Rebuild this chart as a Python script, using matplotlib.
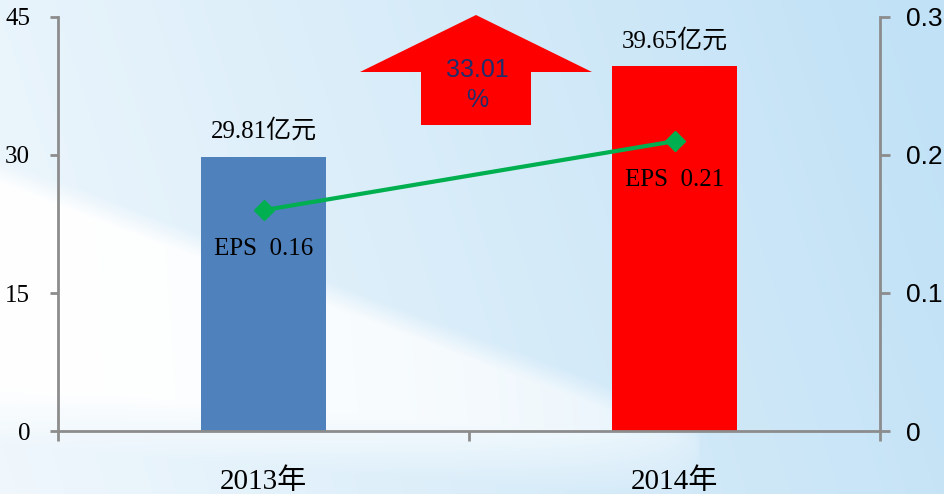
import numpy as np
import matplotlib.pyplot as plt
from matplotlib.patches import Polygon

# data
years = ['2013年', '2014年']
profit = [29.81, 39.65]          # 亿元
eps = [0.16, 0.21]
bar_colors = ['#4f81bd', '#ff0000']
growth = '33.01\n%'

serif_cjk = ['Liberation Serif', 'Noto Sans CJK SC']

fig = plt.figure(figsize=(9.44, 4.94), dpi=100)

# background: light blue gradient with a white diagonal swoosh
bg = fig.add_axes([0, 0, 1, 1], zorder=-10)
H, W = 494, 944
yy, xx = np.mgrid[0:H, 0:W].astype(float)
t = np.clip(xx / W * 0.9 + (1 - yy / H) * 0.15, 0, 1)
light = np.array([0.94, 0.97, 0.99])
blue = np.array([0.76, 0.885, 0.965])
img = light[None, None, :] * (1 - t[..., None]) + blue[None, None, :] * t[..., None]
upper = 160 + 0.37 * xx
lower = 445 + 0.08 * xx
band = np.clip((yy - upper) / 25, 0, 1) * np.clip((lower - yy) / 60, 0, 1)
band *= np.clip(1 - xx / 700, 0, 1) ** 0.3
img = img * (1 - band[..., None]) + band[..., None] * 1.0
bg.imshow(img, aspect='auto', extent=[0, 1, 0, 1])
bg.axis('off')

ax = fig.add_axes([58 / 944, 63 / 494, 822 / 944, 414 / 494])
ax.set_facecolor('none')
x = np.arange(len(years))
ax.bar(x, profit, width=0.305, color=bar_colors, zorder=2)
ax.set_xlim(-0.5, 1.5)
ax.set_ylim(0, 45)
ax.set_yticks([0, 15, 30, 45])
ax.set_xticks([-0.5, 0.5, 1.5], minor=False)
ax.set_xticklabels(['', '', ''])
ax.set_xticks(x, minor=True)
ax.set_xticklabels(years, minor=True, fontfamily=serif_cjk, fontsize=21)
ax.tick_params(axis='x', which='minor', length=0, pad=27)
ax.tick_params(axis='x', which='major', length=7, width=2, color='#8c8c8c', direction='out')
ax.tick_params(axis='y', length=6, width=2, color='#8c8c8c', labelsize=18, pad=14)
for lab in ax.get_yticklabels():
    lab.set_fontfamily('Liberation Serif')
for s in ['top', 'right']:
    ax.spines[s].set_visible(False)
for s in ['left', 'bottom']:
    ax.spines[s].set_color('#8c8c8c')
    ax.spines[s].set_linewidth(2)

for xi, v in zip(x, profit):
    ax.annotate(f'{v:.2f}亿元', (xi, v), xytext=(0, 10), textcoords='offset points',
                ha='center', va='bottom', fontsize=18, fontfamily=serif_cjk)

ax2 = ax.twinx()
ax2.set_ylim(0, 0.3)
ax2.set_yticks([0, 0.1, 0.2, 0.3])
ax2.set_yticklabels(['0', '0.1', '0.2', '0.3'], fontfamily='Liberation Sans', fontsize=19)
ax2.tick_params(axis='y', length=7, width=2, color='#8c8c8c', pad=12)
for s in ['top', 'left', 'bottom']:
    ax2.spines[s].set_visible(False)
ax2.spines['right'].set_color('#8c8c8c')
ax2.spines['right'].set_linewidth(2)
ax2.plot(x, eps, color='#00b050', lw=3, marker='D', ms=10, zorder=3)
for xi, v in zip(x, eps):
    ax2.annotate(f'EPS  {v:.2f}', (xi, v), xytext=(0, -20), textcoords='offset points',
                 ha='center', va='top', fontsize=18, fontfamily='Liberation Serif')

# growth arrow (in axes fractions)
def fx(px):
    return (px - 58) / 822

def fy(py):
    return (431 - py) / 414

arrow = Polygon([(fx(421), fy(125)), (fx(421), fy(72)), (fx(360), fy(72)),
                 (fx(476), fy(15)), (fx(592), fy(72)), (fx(531), fy(72)),
                 (fx(531), fy(125))], closed=True, transform=ax.transAxes,
                facecolor='#ff0000', edgecolor='none', zorder=4, clip_on=False)
ax.add_patch(arrow)
ax.text(fx(477), fy(85), growth, transform=ax.transAxes, ha='center', va='center',
        fontsize=18, color='#1f2d6b', fontfamily='Liberation Sans',
        linespacing=1.35, zorder=5)

fig.savefig('out.png', dpi=100)
